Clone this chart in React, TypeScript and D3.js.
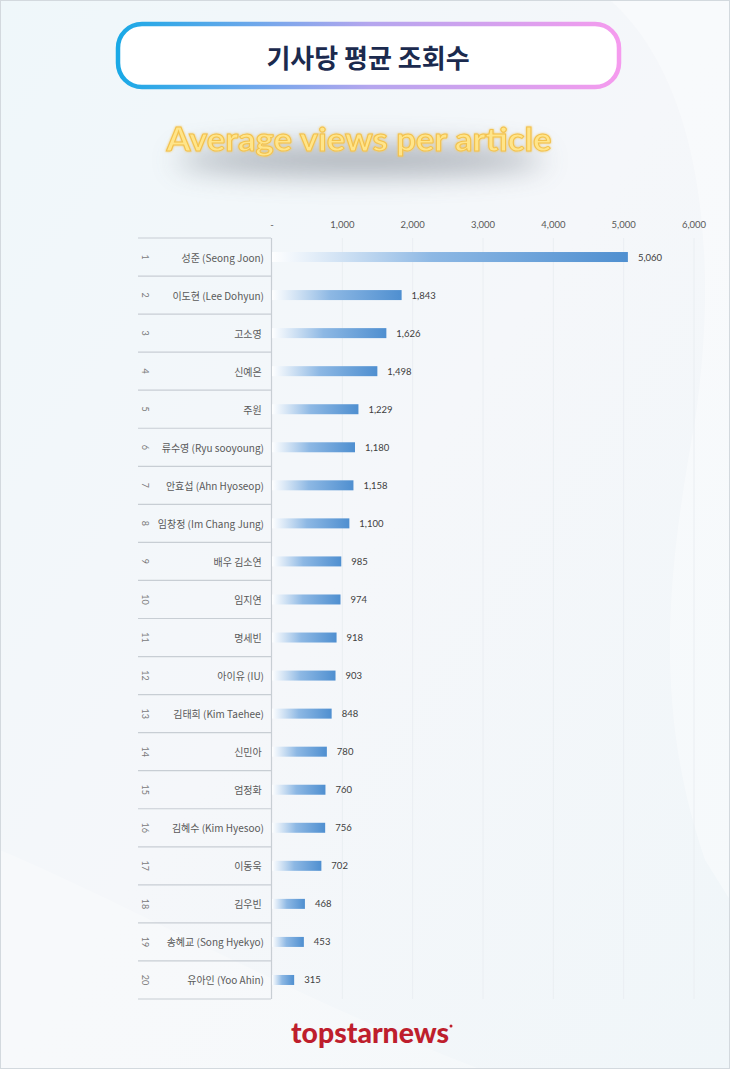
import React from "react";
import * as d3 from "d3";

const ranks = ["1","2","3","4","5","6","7","8","9","10","11","12","13","14","15","16","17","18","19","20"];
const names = [
  "성준 (Seong Joon)", "이도현 (Lee Dohyun)", "고소영 ", "신예은 ", "주원 ",
  "류수영 (Ryu sooyoung)", "안효섭 (Ahn Hyoseop)", "임창정 (Im Chang Jung)", "배우 김소연 ", "임지연 ",
  "명세빈 ", "아이유 (IU)", "김태희 (Kim Taehee)", "신민아 ", "엄정화 ",
  "김혜수 (Kim Hyesoo)", "이동욱 ", "김우빈 ", "송혜교 (Song Hyekyo)", "유아인 (Yoo Ahin)"
];
const views = [5060, 1843, 1626, 1498, 1229, 1180, 1158, 1100, 985, 974, 918, 903, 848, 780, 760, 756, 702, 468, 453, 315];
const tickValues = [0, 1000, 2000, 3000, 4000, 5000, 6000];
const titleKo = "기사당 평균 조회수";
const titleEn = "Average views per article";
const logo = "topstarnews";

const W = 730, H = 1069;

export default function App() {
  const x = d3.scaleLinear().domain([0, 6000]).range([272, 694]);
  const y = d3.scaleBand<string>().domain(ranks).range([238, 999]).padding(0);
  const fmt = d3.format(",");
  const tickFmt = (v: number) => (v === 0 ? "-" : fmt(v));
  const barH = 10;
  const kr = "'Noto Sans CJK KR', 'Noto Sans', sans-serif";
  const lat = "Lato, 'Open Sans', sans-serif";

  return (
    <svg width={W} height={H} style={{ position: "absolute", left: 0, top: 0, display: "block" }}>
      <defs>
        <linearGradient id="bg" x1="0" y1="0" x2="1" y2="1">
          <stop offset="0" stopColor="#eff7fa" />
          <stop offset="0.5" stopColor="#f5f7fa" />
          <stop offset="1" stopColor="#f0f6f9" />
        </linearGradient>
        <linearGradient id="frame" x1="0" y1="0" x2="1" y2="0">
          <stop offset="0" stopColor="#1aa9e6" />
          <stop offset="0.5" stopColor="#b4a6ee" />
          <stop offset="1" stopColor="#f59bee" />
        </linearGradient>
        <linearGradient id="bar" x1="0" y1="0" x2="1" y2="0">
          <stop offset="0" stopColor="#ffffff" stopOpacity="0.9" />
          <stop offset="0.45" stopColor="#8db8e4" />
          <stop offset="1" stopColor="#4f8fd0" />
        </linearGradient>
        <filter id="blur" filterUnits="userSpaceOnUse" x="100" y="100" width="520" height="120">
          <feGaussianBlur stdDeviation="14" />
        </filter>
        <filter id="glow" filterUnits="userSpaceOnUse" x="140" y="110" width="440" height="60">
          <feGaussianBlur stdDeviation="1.2" result="b" />
          <feMerge>
            <feMergeNode in="b" />
            <feMergeNode in="SourceGraphic" />
          </feMerge>
        </filter>
      </defs>

      <rect x={0} y={0} width={W} height={H} fill="url(#bg)" />
      <path d="M610,0 C700,80 720,250 695,420 C670,560 650,700 705,860 L730,900 L730,0 Z" fill="#ffffff" opacity={0.35} />
      <path d="M0,850 C120,900 300,1000 480,1069 L0,1069 Z" fill="#ffffff" opacity={0.25} />
      <rect x={0.5} y={0.5} width={W - 1} height={H - 1} fill="none" stroke="#d3d9de" />

      {/* Title box */}
      <rect x={118} y={24} width={501} height={63} rx={24} fill="#ffffff" stroke="url(#frame)" strokeWidth={4.5} />
      <text x={368} y={56} textAnchor="middle" dominantBaseline="central" fontFamily={kr} fontWeight={700} fontSize={26} fill="#1b2a4e">{titleKo}</text>

      {/* Subtitle */}
      <ellipse cx={360} cy={160} rx={185} ry={14} fill="#5b6470" opacity={0.5} filter="url(#blur)" />
      <text x={359} y={138} textAnchor="middle" dominantBaseline="central" fontFamily={lat} fontWeight={700} fontSize={32}
        textLength={385} lengthAdjust="spacingAndGlyphs" fill="#ffe58a" stroke="#f2c14e" strokeWidth={1} filter="url(#glow)">{titleEn}</text>

      {/* Gridlines */}
      {tickValues.slice(1).map((t) => (
        <line key={"g" + t} x1={x(t)} x2={x(t)} y1={238} y2={999} stroke="#eaeef2" strokeWidth={1} />
      ))}

      {/* Tick labels */}
      {tickValues.map((t) => (
        <text key={"t" + t} x={x(t)} y={224} textAnchor="middle" dominantBaseline="central" fontFamily={lat} fontSize={9.5} fill="#595959">{tickFmt(t)}</text>
      ))}

      {/* Table lines */}
      <line x1={271.5} x2={271.5} y1={238} y2={999} stroke="#c8ced4" strokeWidth={1.2} />
      {[...ranks, "end"].map((r, i) => {
        const yy = 238 + i * y.bandwidth();
        return <line key={"h" + i} x1={138} x2={271} y1={yy} y2={yy} stroke="#c8ced4" strokeWidth={1.2} />;
      })}

      {ranks.map((r, i) => {
        const cy = (y(r) as number) + y.bandwidth() / 2;
        const v = views[i];
        return (
          <g key={r}>
            <text x={0} y={0} transform={`translate(145,${cy}) rotate(90)`} textAnchor="middle" dominantBaseline="central" fontFamily={lat} fontSize={9} fill="#7a7a7a">{r}</text>
            <text x={264} y={cy} textAnchor="end" dominantBaseline="central" fontFamily={kr} fontSize={10} fill="#595959" style={{ whiteSpace: "pre" }}>{names[i]}</text>
            <rect x={x(0)} y={cy - barH / 2} width={x(v) - x(0)} height={barH} fill="url(#bar)" />
            <text x={x(v) + 10} y={cy} textAnchor="start" dominantBaseline="central" fontFamily={lat} fontSize={9.5} fill="#404040">{fmt(v)}</text>
          </g>
        );
      })}

      {/* Logo */}
      <text x={370} y={1031} textAnchor="middle" dominantBaseline="central" fontFamily={lat} fontWeight={900} fontSize={29}
        textLength={158} lengthAdjust="spacingAndGlyphs" fill="#be1e2d">{logo}</text>
      <circle cx={451} cy={1026} r={1.5} fill="#be1e2d" />
    </svg>
  );
}
